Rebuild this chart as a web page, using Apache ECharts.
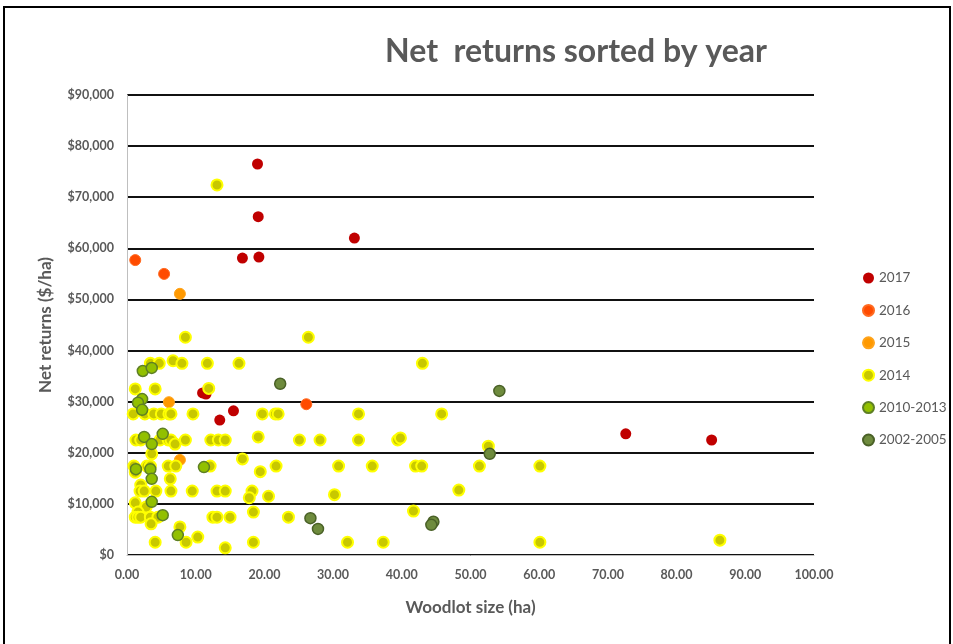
<!DOCTYPE html>
<html>
<head>
<meta charset="utf-8">
<script src="https://cdn.jsdelivr.net/npm/echarts@6/dist/echarts.min.js"></script>
<style>
  html, body {margin: 0; padding: 0; background: #fff;}
  #chart {width: 953px; height: 644px;}
</style>
</head>
<body>
<div id="chart"></div>
<script>
// woodlot size (ha) / net returns ($/ha), one pair of arrays per year group
const y2017X = [19.0, 19.1, 16.8, 19.2, 33.1, 13.5, 15.5, 11.0, 11.5, 72.6, 85.1]
const y2017Y = [76500, 66200, 58100, 58300, 62000, 26400, 28200, 31700, 31500, 23700, 22500]

const y2016X = [1.2, 5.4, 26.1]
const y2016Y = [57700, 55000, 29500]

const y2015X = [7.7, 6.1, 7.7]
const y2015Y = [51100, 29900, 18600]

const y2014X = [
  13.1,
  8.5, 26.4,
  3.4, 4.7, 6.7, 8.0, 11.7, 16.3, 43.0,
  1.2, 4.1, 11.9,
  0.9, 2.6, 3.9, 5.0, 6.1, 6.4, 9.6, 19.7, 21.6, 22.0, 33.7, 45.8,
  1.3, 2.0, 4.8, 6.0, 6.4, 7.0, 8.5, 12.2, 13.3, 14.3, 19.1, 25.1, 28.1, 33.7, 39.4, 39.8, 52.6,
  3.6, 16.8,
  1.0, 2.9, 3.4, 6.0, 7.1, 12.1, 21.7, 30.8, 35.7, 42.0, 42.9, 51.3, 60.1,
  19.4, 1.2, 6.3, 2.0,
  1.9, 2.5, 4.2, 6.4, 9.5, 13.1, 14.3, 18.2, 48.3,
  30.2, 17.8, 20.6,
  1.2, 2.8, 1.6, 18.4, 41.7,
  1.2, 1.6, 2.0, 3.4, 4.5, 12.5, 13.1, 15.0, 23.5,
  3.5, 7.7, 10.3,
  4.1, 8.6, 18.4, 32.1, 37.3, 60.1,
  86.3, 14.3
]
const y2014Y = [
  72400,
  42600, 42600,
  37500, 37500, 38000, 37500, 37500, 37500, 37500,
  32500, 32500, 32600,
  27600, 27600, 27600, 27600, 27600, 27600, 27600, 27600, 27600, 27600, 27600, 27600,
  22500, 22500, 22500, 22500, 22500, 21700, 22500, 22500, 22500, 22500, 23100, 22500, 22500, 22500, 22500, 22900, 21300,
  19800, 18800,
  17400, 17400, 17400, 17400, 17400, 17400, 17400, 17400, 17400, 17400, 17400, 17400, 17400,
  16300, 16200, 14900, 13700,
  12500, 12500, 12500, 12500, 12500, 12500, 12500, 12500, 12700,
  11800, 11200, 11500,
  10200, 9400, 8400, 8400, 8600,
  7400, 7400, 7400, 7400, 7400, 7400, 7400, 7400, 7400,
  6100, 5500, 3500,
  2500, 2500, 2500, 2500, 2500, 2500,
  2900, 1400
]

const y2010X = [2.3, 3.6, 2.2, 1.6, 2.2, 2.5, 5.2, 3.6, 1.3, 3.4, 11.2, 3.6, 3.6, 5.2, 7.4]
const y2010Y = [36000, 36600, 30500, 29800, 28400, 23100, 23700, 21700, 16800, 16800, 17200, 14900, 10400, 7800, 3900]

const y2002X = [22.3, 54.2, 52.8, 26.7, 27.8, 44.6, 44.3]
const y2002Y = [33500, 32100, 19800, 7200, 5100, 6500, 5900]

const groupNames = ['2017', '2016', '2015', '2014', '2010-2013', '2002-2005']
const xTicks = [0, 10, 20, 30, 40, 50, 60, 70, 80, 90, 100]
const yTicks = [0, 10000, 20000, 30000, 40000, 50000, 60000, 70000, 80000, 90000]

const pairs = (xs, ys) => xs.map((x, i) => [x, ys[i]])

const styles = [
  {color: '#C00000', borderColor: '#C00000', borderWidth: 0, opacity: 1},
  {color: '#FF4B00', borderColor: '#FF6A20', borderWidth: 1, opacity: 1},
  {color: '#FF9900', borderColor: '#FFA31A', borderWidth: 1, opacity: 1},
  {color: '#C8C800', borderColor: '#FFFF00', borderWidth: 2, opacity: 1},
  {color: '#92C000', borderColor: '#5E7F24', borderWidth: 1.5, opacity: 1},
  {color: '#6E8B3D', borderColor: '#4A6127', borderWidth: 1.5, opacity: 1}
]
const groupData = [
  pairs(y2017X, y2017Y), pairs(y2016X, y2016Y), pairs(y2015X, y2015Y),
  pairs(y2014X, y2014Y), pairs(y2010X, y2010Y), pairs(y2002X, y2002Y)
]

const chart = echarts.init(document.getElementById('chart'))

chart.setOption({
  animation: false,
  title: {
    text: 'Net  returns sorted by year',
    left: 571,
    top: 31,
    textAlign: 'center',
    textStyle: {
      fontFamily: 'Lato',
      fontSize: 32,
      fontWeight: 'bold',
      color: '#595959'
    }
  },
  legend: {
    orient: 'vertical',
    left: 857,
    top: 266,
    itemGap: 18.4,
    itemWidth: 11,
    itemHeight: 11,
    data: groupNames.map(n => ({name: n, icon: 'circle'})),
    textStyle: {fontFamily: 'Lato', fontSize: 13.5, color: '#595959'}
  },
  graphic: [{
    type: 'rect',
    shape: {x: 4, y: 7, width: 946, height: 660},
    style: {fill: 'none', stroke: '#000', lineWidth: 2}
  }],
  grid: {left: 127, right: 139, top: 95, bottom: 89},
  xAxis: {
    type: 'value',
    min: xTicks[0],
    max: xTicks[xTicks.length - 1],
    interval: 10,
    name: 'Woodlot size (ha)',
    nameLocation: 'middle',
    nameGap: 44,
    nameTextStyle: {fontFamily: 'Lato', fontSize: 17, fontWeight: 'bold', color: '#595959'},
    axisLine: {lineStyle: {color: '#BFBFBF', width: 1}},
    axisTick: {show: false},
    splitLine: {show: false},
    axisLabel: {
      fontFamily: 'Lato', fontSize: 12.5, fontWeight: 'bold', color: '#595959', margin: 13,
      formatter: v => v.toFixed(2)
    }
  },
  yAxis: {
    type: 'value',
    min: yTicks[0],
    max: yTicks[yTicks.length - 1],
    interval: 10000,
    name: 'Net returns ($/ha)',
    nameLocation: 'middle',
    nameGap: 73,
    nameTextStyle: {fontFamily: 'Lato', fontSize: 17, fontWeight: 'bold', color: '#595959'},
    axisLine: {show: true, lineStyle: {color: '#BFBFBF', width: 1}},
    axisTick: {show: false},
    splitLine: {lineStyle: {color: '#111', width: 2}},
    axisLabel: {
      fontFamily: 'Lato', fontSize: 12.5, fontWeight: 'bold', color: '#595959', margin: 13,
      formatter: v => '$' + v.toLocaleString('en-US')
    }
  },
  series: groupNames.map((name, i) => ({
    name: name,
    type: 'scatter',
    symbolSize: 11,
    data: groupData[i],
    itemStyle: styles[i]
  }))
})
</script>
</body>
</html>
